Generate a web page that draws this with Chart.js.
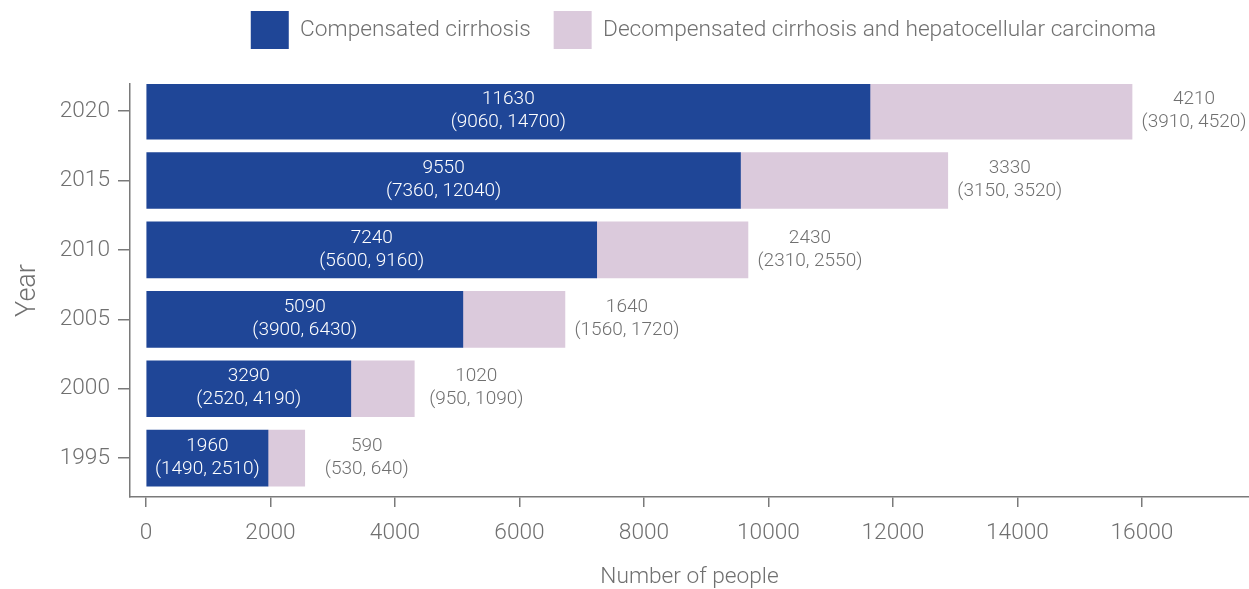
<!DOCTYPE html>
<html>
<head>
<meta charset="utf-8">
<script src="https://cdn.jsdelivr.net/npm/chart.js@4"></script>
<style>
  html, body { margin: 0; padding: 0; background: #fff; }
  #wrap { width: 1249px; height: 589px; position: relative; }
</style>
</head>
<body>
<div id="wrap"><canvas id="c"></canvas></div>
<script>
// ---- data (bottom to top) ----
const years = ['1995', '2000', '2005', '2010', '2015', '2020'];
const compensated = [1960, 3290, 5090, 7240, 9550, 11630];
const compensatedLow = [1490, 2520, 3900, 5600, 7360, 9060];
const compensatedHigh = [2510, 4190, 6430, 9160, 12040, 14700];
const decompensated = [590, 1020, 1640, 2430, 3330, 4210];
const decompensatedLow = [530, 950, 1560, 2310, 3150, 3910];
const decompensatedHigh = [640, 1090, 1720, 2550, 3520, 4520];
const xTickValues = [0, 2000, 4000, 6000, 8000, 10000, 12000, 14000, 16000];
const seriesNames = ['Compensated cirrhosis', 'Decompensated cirrhosis and hepatocellular carcinoma'];

const BLUE = '#1f4697';
const PINK = '#dbcadc';
const GRAY = '#707070';
const AXIS = '#7a7a7a';

Chart.defaults.font.family = 'Roboto, "Liberation Sans", Arial, sans-serif';
Chart.defaults.font.weight = 300;
Chart.defaults.color = GRAY;

const labelPlugin = {
  id: 'barLabels',
  afterDatasetsDraw(chart) {
    const ctx = chart.ctx;
    ctx.save();
    ctx.font = '300 19px Roboto, "Liberation Sans", Arial, sans-serif';
    ctx.textAlign = 'center';
    ctx.textBaseline = 'middle';
    const m0 = chart.getDatasetMeta(0);
    m0.data.forEach((el, i) => {
      const cx = (el.x + el.base) / 2;
      ctx.fillStyle = '#ffffff';
      ctx.fillText(String(compensated[i]), cx, el.y - 12);
      ctx.fillText('(' + compensatedLow[i] + ', ' + compensatedHigh[i] + ')', cx, el.y + 11);
    });
    const m1 = chart.getDatasetMeta(1);
    m1.data.forEach((el, i) => {
      const cx = el.x + 62;
      ctx.fillStyle = GRAY;
      ctx.fillText(String(decompensated[i]), cx, el.y - 12);
      ctx.fillText('(' + decompensatedLow[i] + ', ' + decompensatedHigh[i] + ')', cx, el.y + 11);
    });
    ctx.restore();
  }
};

const legendShift = {
  id: 'legendShift',
  afterLayout(chart) {
    const lg = chart.legend;
    if (!lg) return;
    lg.left += 79; lg.right += 79;
    lg.top -= 25; lg.bottom -= 25;
  }
};

new Chart(document.getElementById('c'), {
  type: 'bar',
  data: {
    datasets: [
      {
        label: seriesNames[0],
        data: compensated.map((v, i) => ({ x: v, y: i })),
        backgroundColor: BLUE,
        stack: 'total',
        barThickness: 56
      },
      {
        label: seriesNames[1],
        data: decompensated.map((v, i) => ({ x: v, y: i })),
        backgroundColor: PINK,
        stack: 'total',
        barThickness: 56
      }
    ]
  },
  options: {
    indexAxis: 'y',
    responsive: true,
    maintainAspectRatio: false,
    animation: false,
    layout: { padding: { top: 13, left: 0, right: 0, bottom: 0 } },
    plugins: {
      legend: {
        position: 'top',
        labels: {
          boxWidth: 38,
          boxHeight: 38,
          padding: 23,
          color: GRAY,
          font: { size: 22.7, weight: 300 }
        }
      },
      tooltip: { enabled: false }
    },
    scales: {
      x: {
        type: 'linear',
        stacked: true,
        min: -257,
        max: 17719,
        afterBuildTicks(axis) { axis.ticks = xTickValues.map(v => ({ value: v })); },
        afterFit(axis) { axis.height = 92; },
        ticks: {
          color: GRAY,
          font: { size: 22.7, weight: 300 },
          padding: 13,
          maxRotation: 0,
          autoSkip: false,
          callback: (v) => String(v)
        },
        grid: { display: true, drawOnChartArea: false, drawTicks: true, tickLength: 10, color: AXIS, lineWidth: 1.5 },
        border: { display: true, color: AXIS, width: 1.5 },
        title: {
          display: true,
          text: 'Number of people',
          color: GRAY,
          font: { size: 22.7, weight: 300 },
          padding: { top: 0, bottom: -2 }
        }
      },
      y: {
        type: 'linear',
        offset: false,
        min: -0.56,
        max: 5.39,
        afterBuildTicks(axis) { axis.ticks = years.map((_, i) => ({ value: i })); },
        afterFit(axis) { axis.width = 130; },
        ticks: {
          color: GRAY,
          font: { size: 22.7, weight: 300 },
          padding: 8,
          autoSkip: false,
          callback: (v) => years[v]
        },
        grid: { display: true, offset: false, drawOnChartArea: false, drawTicks: true, tickLength: 12, color: AXIS, lineWidth: 1.5 },
        border: { display: true, color: AXIS, width: 1.5 },
        title: {
          display: true,
          text: 'Year',
          color: GRAY,
          font: { size: 27, weight: 300 },
          padding: { top: 12, bottom: 0 }
        }
      }
    }
  },
  plugins: [labelPlugin, legendShift]
});
</script>
</body>
</html>
